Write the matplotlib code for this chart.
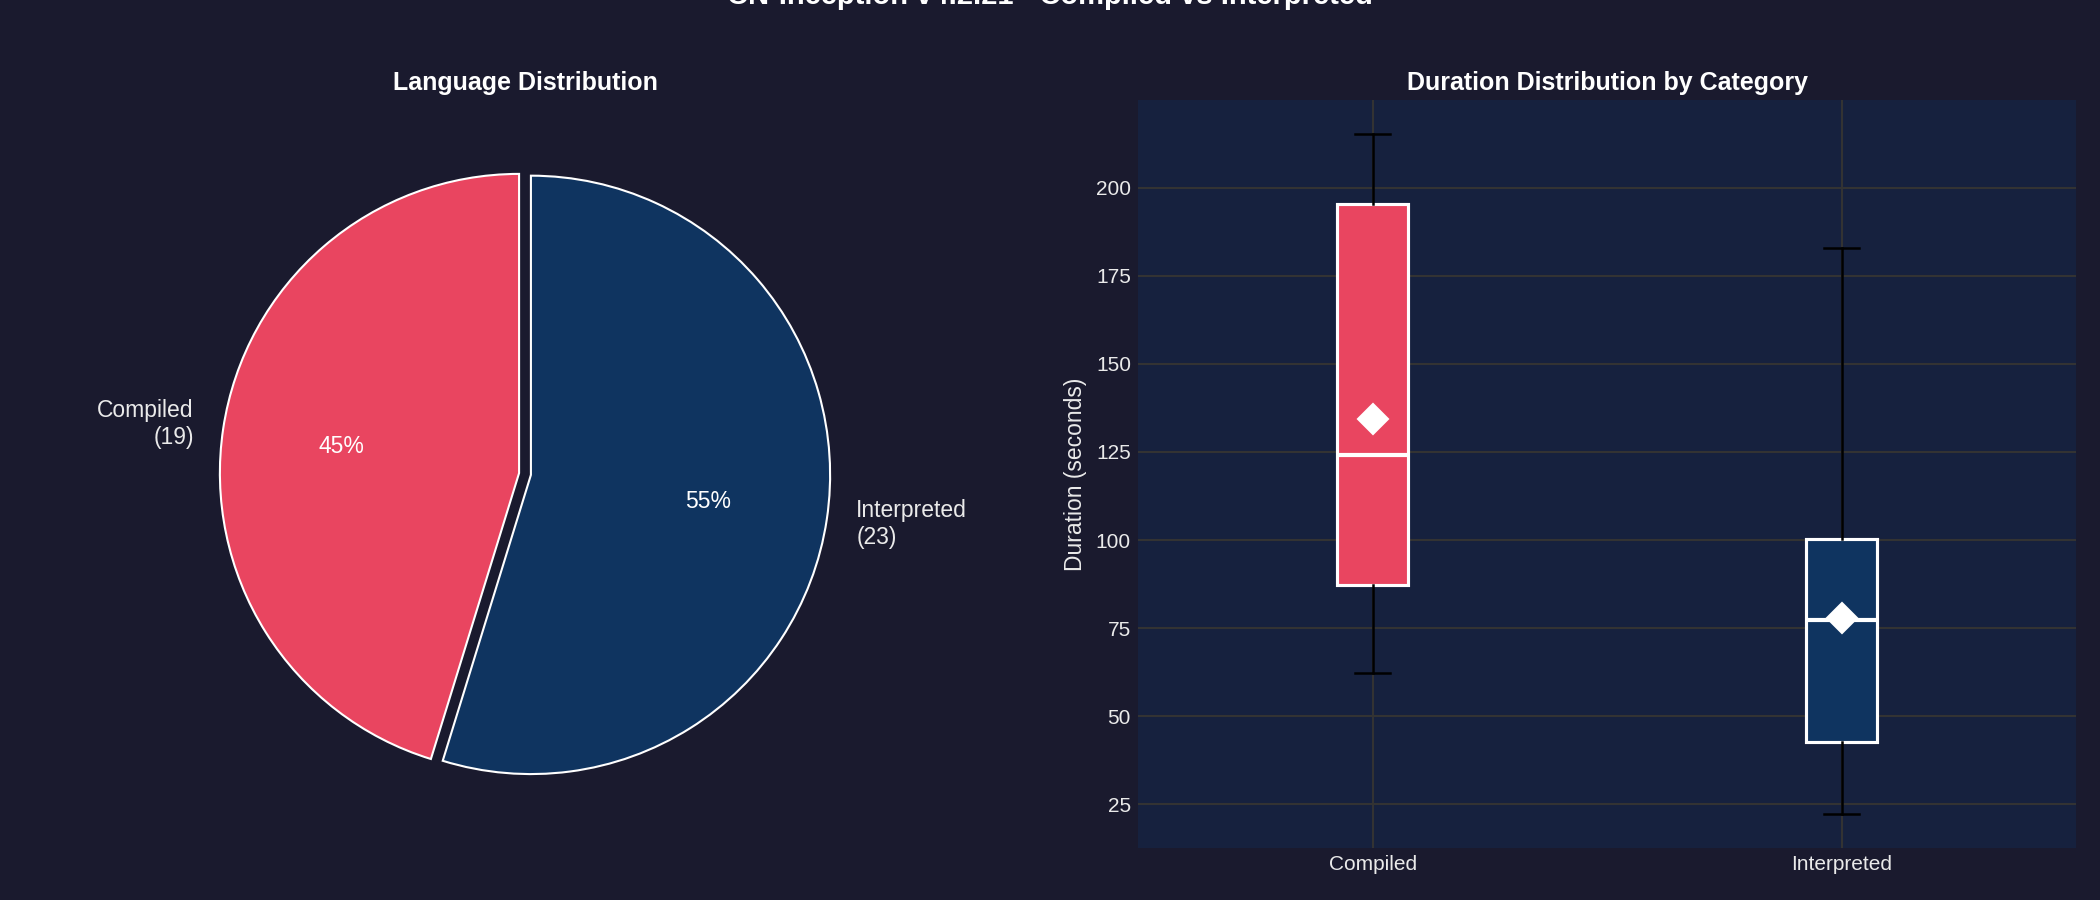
import matplotlib
matplotlib.use("Agg")
import matplotlib.pyplot as plt

plt.rcParams["font.family"] = ["Liberation Sans", "DejaVu Sans"]

# Data
categories = ["Compiled", "Interpreted"]
counts = [19, 23]

# Box statistics (seconds): whisker low, Q1, median, Q3, whisker high, mean
whislo = [62.2, 22.3]
q1 = [87.2, 42.8]
med = [124.1, 77.4]
q3 = [195.4, 100.2]
whishi = [215.2, 182.9]
means = [134.3, 77.8]

colors = ["#e94560", "#0f3460"]
bg = "#1a1a2e"
panel = "#16213e"
text_c = "#eaeaea"

fig = plt.figure(figsize=(14, 6), dpi=150, facecolor=bg)
ax1 = fig.add_axes([0.03, 0.0578, 0.44, 0.8311])
ax2 = fig.add_axes([0.542, 0.0578, 0.4466, 0.8311])

# Pie chart
labels = [f"{c}\n({n})" for c, n in zip(categories, counts)]
ax1.set_facecolor(bg)
wedges, texts, autotexts = ax1.pie(
    counts, labels=labels, colors=colors, autopct="%1.0f%%", startangle=90,
    explode=(0.02, 0.02), wedgeprops={"edgecolor": "white", "linewidth": 1.0},
    textprops={"color": text_c, "fontsize": 11})
for t in autotexts:
    t.set_color("white")
ax1.set_title("Language Distribution", color="white", fontsize=12,
              fontweight="bold", pad=5)

# Box plot
stats = []
for i, c in enumerate(categories):
    stats.append({"label": c, "whislo": whislo[i], "q1": q1[i], "med": med[i],
                  "q3": q3[i], "whishi": whishi[i], "mean": means[i], "fliers": []})
ax2.set_facecolor(panel)
bp = ax2.bxp(stats, showmeans=True, patch_artist=True,
             boxprops={"edgecolor": "white", "linewidth": 1.5},
             medianprops={"color": "white", "linewidth": 2},
             whiskerprops={"color": "black", "linewidth": 1.2},
             capprops={"color": "black", "linewidth": 1.2},
             meanprops={"marker": "D", "markerfacecolor": "white",
                        "markeredgecolor": "white", "markersize": 10})
for patch, col in zip(bp["boxes"], colors):
    patch.set_facecolor(col)

ax2.set_axisbelow(True)
ax2.grid(True, color="#333333", linewidth=1)
for s in ax2.spines.values():
    s.set_visible(False)
ax2.tick_params(colors=text_c, labelsize=10, length=0)
ax2.set_ylabel("Duration (seconds)", color=text_c, fontsize=11)
ax2.set_title("Duration Distribution by Category", color="white", fontsize=12,
              fontweight="bold", pad=5)

fig.suptitle("CN-Inception v4.2.21 - Compiled vs Interpreted", color="white",
             fontsize=14, fontweight="bold", y=1.02)

fig.savefig("out.png", dpi=150, facecolor=bg)
